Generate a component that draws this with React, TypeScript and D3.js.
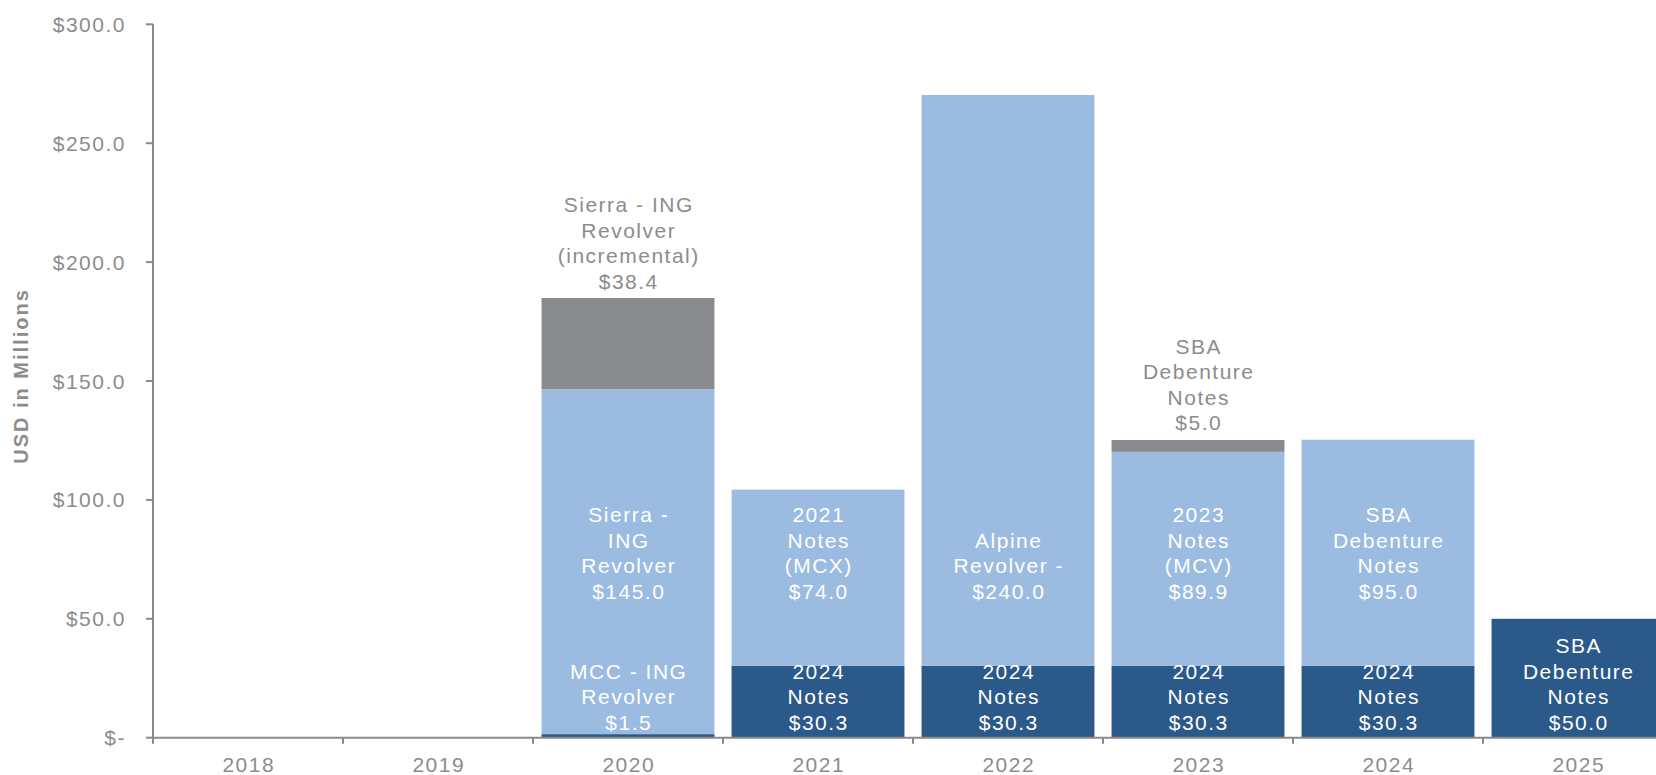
import React from 'react';
import * as d3 from 'd3';

const years = ['2018', '2019', '2020', '2021', '2022', '2023', '2024', '2025'];
const darkValues = [0, 0, 1.5, 30.3, 30.3, 30.3, 30.3, 50.0];
const lightValues = [0, 0, 145.0, 74.0, 240.0, 89.9, 95.0, 0];
const greyValues = [0, 0, 38.4, 0, 0, 5.0, 0, 0];
const yTicks = [0, 50, 100, 150, 200, 250, 300];

const darkLabels: string[][] = [
  [], [],
  ['MCC - ING', 'Revolver', '$1.5'],
  ['2024', 'Notes', '$30.3'],
  ['2024', 'Notes', '$30.3'],
  ['2024', 'Notes', '$30.3'],
  ['2024', 'Notes', '$30.3'],
  ['SBA', 'Debenture', 'Notes', '$50.0'],
];
const lightLabels: string[][] = [
  [], [],
  ['Sierra -', 'ING', 'Revolver', '$145.0'],
  ['2021', 'Notes', '(MCX)', '$74.0'],
  ['Alpine', 'Revolver -', '$240.0'],
  ['2023', 'Notes', '(MCV)', '$89.9'],
  ['SBA', 'Debenture', 'Notes', '$95.0'],
  [],
];
const greyLabels: string[][] = [
  [], [],
  ['Sierra - ING', 'Revolver', '(incremental)', '$38.4'],
  [], [],
  ['SBA', 'Debenture', 'Notes', '$5.0'],
  [], [],
];

const W = 1656;
const H = 775;
const axisX = 153;
const step = 190;
const y0 = 737.7;
const yTop = 24.3;
const DARK = '#2A598A';
const LIGHT = '#9BBBE1';
const GREY = '#8A8B8F';
const AXIS = '#8A8A8A';
const TEXT = '#8C8C8C';
const FONT = '"Liberation Sans", Arial, sans-serif';
const FS = 21;
const LS = 1.5;
const LINE = 25.5;

export default function App() {
  const x = d3
    .scaleBand<string>()
    .domain(years)
    .range([axisX, axisX + step * years.length])
    .paddingInner(0.09)
    .paddingOuter(0.045);
  const y = d3.scaleLinear().domain([0, 300]).range([y0, yTop]);
  const bw = x.bandwidth();

  const labelBlock = (lines: string[], cx: number, lastBaseline: number, fill: string, key: string) =>
    lines.map((t, i) => (
      <text
        key={key + i}
        x={cx + LS / 2}
        y={lastBaseline - (lines.length - 1 - i) * LINE}
        textAnchor="middle"
        fill={fill}
        fontSize={FS}
        letterSpacing={LS}
        fontFamily={FONT}
      >
        {t}
      </text>
    ));

  return (
    <svg
      width={W}
      height={H}
      style={{ position: 'absolute', left: 0, top: 0, background: '#fff' }}
    >
      {/* bars */}
      {years.map((yr, i) => {
        const bx = x(yr) as number;
        const d = darkValues[i];
        const l = lightValues[i];
        const g = greyValues[i];
        return (
          <g key={yr}>
            {d > 0 && <rect x={bx} y={y(d)} width={bw} height={y(0) - y(d)} fill={DARK} />}
            {l > 0 && <rect x={bx} y={y(d + l)} width={bw} height={y(d) - y(d + l)} fill={LIGHT} />}
            {g > 0 && <rect x={bx} y={y(d + l + g)} width={bw} height={y(d + l) - y(d + l + g)} fill={GREY} />}
          </g>
        );
      })}

      {/* labels */}
      {years.map((yr, i) => {
        const cx = (x(yr) as number) + bw / 2;
        const total = darkValues[i] + lightValues[i] + greyValues[i];
        return (
          <g key={'lab' + yr}>
            {labelBlock(darkLabels[i], cx, y(0) - 8, '#FFFFFF', 'd' + yr)}
            {labelBlock(lightLabels[i], cx, y(0) - 139, '#FFFFFF', 'l' + yr)}
            {labelBlock(greyLabels[i], cx, y(total) - 9.5, TEXT, 'g' + yr)}
          </g>
        );
      })}

      {/* y axis */}
      <line x1={axisX} x2={axisX} y1={yTop} y2={y0} stroke={AXIS} strokeWidth={2} />
      {yTicks.map((t) => (
        <g key={'yt' + t}>
          <line x1={axisX - 7} x2={axisX} y1={y(t)} y2={y(t)} stroke={AXIS} strokeWidth={2} />
          <text
            x={126}
            y={y(t)}
            dy="0.36em"
            textAnchor="end"
            fill={TEXT}
            fontSize={FS}
            letterSpacing={LS}
            fontFamily={FONT}
          >
            {t === 0 ? '$-' : '$' + d3.format('.1f')(t)}
          </text>
        </g>
      ))}

      {/* x axis */}
      <line x1={axisX} x2={W} y1={y0} y2={y0} stroke={AXIS} strokeWidth={2} />
      {years.map((yr, i) => (
        <line
          key={'xt' + yr}
          x1={axisX + i * step}
          x2={axisX + i * step}
          y1={y0}
          y2={y0 + 6}
          stroke={AXIS}
          strokeWidth={2}
        />
      ))}
      {years.map((yr) => (
        <text
          key={'xl' + yr}
          x={(x(yr) as number) + bw / 2 + LS / 2}
          y={772}
          textAnchor="middle"
          fill={TEXT}
          fontSize={FS}
          letterSpacing={LS}
          fontFamily={FONT}
        >
          {yr}
        </text>
      ))}

      {/* y axis title */}
      <text
        transform={`translate(28, 376) rotate(-90)`}
        textAnchor="middle"
        fill={TEXT}
        fontSize={20}
        fontWeight="bold"
        letterSpacing={2}
        fontFamily={FONT}
      >
        USD in Millions
      </text>
    </svg>
  );
}
